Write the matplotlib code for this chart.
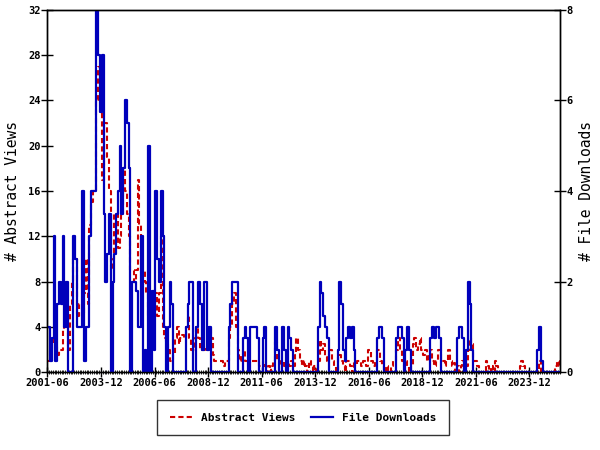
import numpy as np
import pandas as pd
import matplotlib
matplotlib.use("Agg")
import matplotlib.pyplot as plt

# monthly series, 2001-06 .. 2025-05
start_month = '2001-06'

abstract_views = [
    1, 1, 2, 2.5, 3, 2.5, 1.5, 2, 2, 3.7, 4, 5,
    2, 6, 8, 10, 10, 5, 6, 6, 5, 7, 10, 6,
    13, 15, 16, 16, 24, 27, 26, 17, 22, 22, 19, 16,
    9, 10, 14, 14, 11, 12, 14, 18, 16, 14, 12, 9,
    9, 8, 9, 17, 13, 9, 9, 8, 7, 5, 5, 5,
    7, 7, 5, 7, 12, 4, 3, 2.5, 2, 1, 1, 1.5,
    3, 4, 2.5, 3, 3.3, 3, 4, 5, 3, 2, 2, 3,
    4, 3, 2, 2.3, 2, 2.3, 2, 4, 3, 1.5, 1, 1,
    1, 1, 1, 0.5, 1, 1, 3, 4, 6, 7, 4, 2,
    1, 1.5, 2, 1, 1, 1, 1, 1, 1, 1, 1, 0.5,
    0.5, 1, 0.5, 0, 0.5, 0, 0.5, 1, 2.7, 1, 1, 0.5,
    1, 0.5, 0.5, 1, 0.5, 1, 0.5, 1.5, 3, 2, 1, 0.5,
    1, 0.5, 0, 1, 0.5, 0, 0.5, 0, 1, 2.8, 2, 2.5,
    1.3, 1, 2, 2, 1, 0.5, 0, 1.5, 1.5, 1, 0.5, 0,
    1, 1, 0.5, 0, 1, 0.5, 1, 1, 0.5, 1, 1, 0.5,
    2, 2, 1, 0.5, 1, 2, 2, 1, 0.5, 0, 0.5, 0,
    0, 0.5, 1, 1, 2, 3, 2, 1, 0.5, 1, 0.5, 0,
    0.5, 2.5, 3, 2, 2.5, 3, 2, 1.5, 2, 1, 1.5, 2,
    1, 0.5, 1, 2, 2, 1, 1, 0.5, 1, 2, 1, 0.5,
    0.8, 0, 0.5, 0, 0.5, 1, 1, 0.5, 2, 3, 2.5, 1,
    1, 0.5, 0, 0, 0, 0, 1, 0.5, 0, 0.5, 0, 1,
    0.5, 0, 0, 0, 0, 0, 0, 0, 0, 0, 0, 0,
    0, 0.5, 1, 0.5, 0, 0, 0, 0, 0, 0, 0, 0,
    1, 0, 0, 0, 0, 0, 0, 0, 0, 0.5, 1, 0.5,
]

file_downloads = [
    1, 1, 0.25, 0.75, 3, 0.25, 1.5, 2, 1.5, 3, 1, 2,
    0, 0, 0, 3, 2.5, 1, 1, 1, 4, 0.25, 1, 1,
    3, 4, 4, 4, 8, 7, 5.75, 7, 3.5, 2, 2.6, 3.5,
    0, 2, 2.6, 3.5, 4, 5, 3.5, 4.5, 6, 5.5, 4.5, 0,
    2, 2, 1.8, 1, 1, 3, 0, 0.5, 0, 5, 0, 1.8,
    0.5, 4, 2.5, 2, 4, 3, 1, 0, 1, 2, 1.5, 0,
    0, 0, 0, 0, 0, 0, 1, 1.5, 2, 2, 0, 0,
    1, 2, 1.5, 0.5, 2, 2, 0.5, 1, 0, 0, 0, 0,
    0, 0, 0, 0, 0, 0, 1, 1.5, 2, 2, 2, 0,
    0, 0, 0.75, 1, 0.75, 0, 1, 1, 1, 1, 0.75, 0,
    0, 0.75, 1, 0, 0, 0, 0, 0, 1, 0.5, 0, 0,
    1, 0.5, 0, 1, 0.75, 0.5, 0, 0, 0, 0, 0, 0,
    0, 0, 0, 0, 0, 0, 0, 0, 1, 2, 1.75, 1.25,
    1, 0.75, 0, 0, 0, 0, 0, 0.5, 2, 1.5, 0.5, 0.25,
    0.75, 1, 0.75, 1, 0.5, 0, 0, 0, 0, 0, 0, 0,
    0, 0, 0, 0, 0, 0.75, 1, 1, 0.75, 0, 0, 0,
    0, 0, 0, 0, 0.75, 1, 1, 0.75, 0, 0.5, 1, 0.5,
    0, 0, 0, 0, 0, 0, 0, 0, 0, 0, 0, 0.75,
    1, 0.75, 1, 1, 0.75, 0, 0, 0, 0, 0, 0, 0,
    0, 0, 0.75, 1, 1, 0.75, 0, 0.5, 2, 1.5, 0.5, 0,
    0, 0, 0, 0, 0, 0, 0, 0, 0, 0, 0, 0,
    0, 0, 0, 0, 0, 0, 0, 0, 0, 0, 0, 0,
    0, 0, 0, 0, 0, 0, 0, 0, 0, 0, 0, 0.5,
    1, 0.25, 0, 0, 0, 0, 0, 0, 0, 0, 0, 0,
]

tick_labels = ['2001-06', '2003-12', '2006-06', '2008-12', '2011-06',
               '2013-12', '2016-06', '2018-12', '2021-06', '2023-12']

months = pd.period_range(start_month, periods=len(abstract_views), freq='M').strftime('%Y-%m')
x = np.arange(len(months))
tick_pos = [list(months).index(t) for t in tick_labels]

red = '#cc0000'
blue = '#0000bb'
plt.rcParams['font.family'] = ['DejaVu Sans Mono']
plt.rcParams['font.weight'] = 'bold'

fig = plt.figure(figsize=(6, 4.5), dpi=100)
ax = fig.add_axes([0.079, 0.173, 0.854, 0.805])
ax2 = ax.twinx()

l1, = ax.plot(x, abstract_views, color=red, lw=1.5, linestyle=(0, (2.5, 1.5)),
              drawstyle='steps-mid', label='Abstract Views')
l2, = ax2.plot(x, file_downloads, color=blue, lw=1.6, drawstyle='steps-mid',
               label='File Downloads')

ax.set_xlim(0, 287)
ax.set_ylim(0, 32)
ax2.set_ylim(0, 8)
ax.set_yticks(np.arange(0, 33, 4))
ax2.set_yticks(np.arange(0, 9, 2))
ax.set_xticks(tick_pos)
ax.set_xticklabels(tick_labels)
ax.set_xticks(x, minor=True)

ax.tick_params(axis='x', which='major', direction='inout', length=7, width=1,
               labelsize=7.5, pad=1)
ax.tick_params(axis='x', which='minor', direction='inout', length=3, width=0.6)
ax.tick_params(axis='y', direction='inout', length=8, width=1, labelsize=7.5, pad=1)
ax2.tick_params(axis='y', direction='inout', length=8, width=1, labelsize=7.5, pad=1)

ax.set_ylabel('# Abstract Views', fontsize=10.5, labelpad=6)
ax2.set_ylabel('# File Downloads', fontsize=10.5, labelpad=4)

for a in (ax, ax2):
    for s in a.spines.values():
        s.set_linewidth(1)

leg = fig.legend(handles=[l1, l2], loc='center', bbox_to_anchor=(0.505, 0.072),
                 ncol=2, fontsize=8, frameon=True, fancybox=False,
                 edgecolor='black', handlelength=2.0, borderpad=1.1,
                 columnspacing=1.4)
leg.get_frame().set_linewidth(1)

fig.savefig('out.png', dpi=100)
